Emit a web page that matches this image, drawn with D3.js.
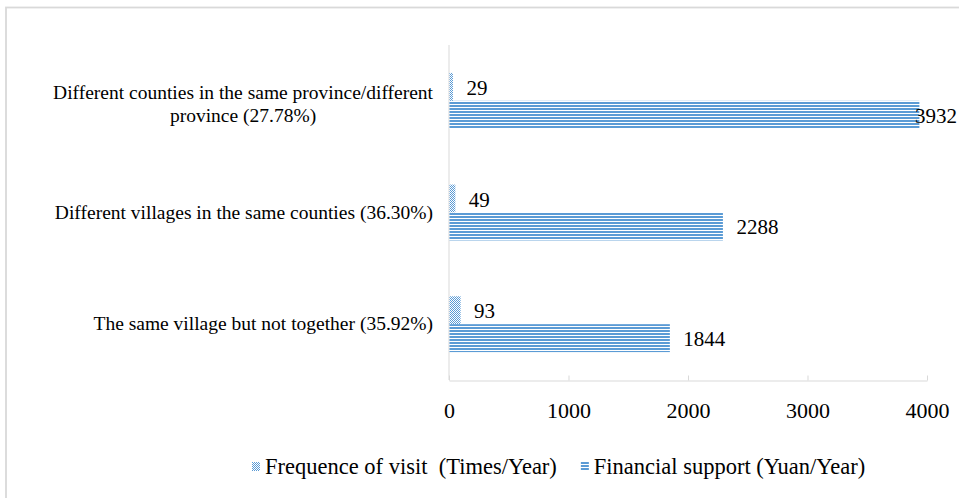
<!DOCTYPE html>
<html><head><meta charset="utf-8">
<script src="https://cdn.jsdelivr.net/npm/d3@7"></script>
<style>
html,body{margin:0;padding:0;background:#fff;}
svg{display:block;font-family:"Liberation Serif","Times New Roman",serif;}
</style></head>
<body>
<svg id="chart" width="959" height="498"></svg>
<script>
const categories = [
  ["Different counties in the same province/different", "province (27.78%)"],
  ["Different villages in the same counties (36.30%)"],
  ["The same village but not together (35.92%)"]
];
const seriesNames = ["Frequence of visit  (Times/Year)", "Financial support (Yuan/Year)"];
const frequency = [29, 49, 93];
const financial = [3932, 2288, 1844];
const xTicks = [0, 1000, 2000, 3000, 4000];

const W = 959, H = 498;
const margin = {left: 449, right: 32, top: 45, bottom: 118};
const svg = d3.select("#chart");
const blue = "#5B9BD5";

const defs = svg.append("defs");
const pDots = defs.append("pattern").attr("id","dots").attr("patternUnits","userSpaceOnUse")
  .attr("width",2).attr("height",2);
pDots.append("rect").attr("width",2).attr("height",2).attr("fill","#fff");
pDots.append("rect").attr("width",1).attr("height",1).attr("fill",blue);
pDots.append("rect").attr("x",1).attr("y",1).attr("width",1).attr("height",1).attr("fill",blue);
const pLines = defs.append("pattern").attr("id","hlines").attr("patternUnits","userSpaceOnUse")
  .attr("width",4).attr("height",3);
pLines.append("rect").attr("width",4).attr("height",3).attr("fill","#fff");
pLines.append("rect").attr("width",4).attr("height",2).attr("fill",blue);
const fills = ["url(#dots)", "url(#hlines)"];

// frame
svg.append("rect").attr("x",6).attr("y",7.5).attr("width",W).attr("height",H)
  .attr("fill","none").attr("stroke","#d9d9d9").attr("stroke-width",1.8);

const x = d3.scaleLinear().domain([0, 4000]).range([margin.left, W - margin.right]);
const y = d3.scaleBand().domain(d3.range(categories.length))
  .range([margin.top, H - margin.bottom]).paddingInner(0.5).paddingOuter(0.25);
const ySub = d3.scaleBand().domain([0,1]).range([0, y.bandwidth()]);

// x axis
const xAxis = d3.axisBottom(x).tickValues(xTicks).tickFormat(d3.format("d"))
  .tickSizeInner(-5).tickSizeOuter(0).tickPadding(22);
const gx = svg.append("g").attr("transform", `translate(0,${H - margin.bottom + 0.5})`).call(xAxis);
gx.select(".domain").attr("stroke","#d9d9d9");
gx.selectAll(".tick line").attr("stroke","#d9d9d9");
gx.selectAll(".tick text").attr("font-family","Liberation Serif").attr("font-size",22).attr("fill","#000");

// y axis line
svg.append("line").attr("x1",x(0)).attr("x2",x(0)).attr("y1",margin.top).attr("y2",H - margin.bottom)
  .attr("stroke","#d9d9d9");

// category labels
const catG = svg.append("g");
const catFont = 19.5;
categories.forEach((lines, i) => {
  const cy = y(i) + y.bandwidth()/2;
  const t = catG.append("text").attr("font-size",catFont).attr("fill","#000");
  if (lines.length === 1) {
    t.attr("x", 433).attr("y", cy + 6).attr("text-anchor","end").text(lines[0]);
  } else {
    t.attr("text-anchor","middle");
    const tmp = catG.append("text").attr("font-size",catFont).text(lines[0]);
    const w = tmp.node().getComputedTextLength(); tmp.remove();
    const cx = 433 - w/2;
    lines.forEach((ln, k) => {
      t.append("tspan").attr("x", cx).attr("y", cy + 10 + (k - (lines.length-1)/2) * 23).text(ln);
    });
  }
});

// bars
const series = [frequency, financial];
series.forEach((vals, s) => {
  const g = svg.append("g");
  g.selectAll("rect").data(vals).join("rect")
    .attr("x", x(0) + 0.5)
    .attr("y", (d,i) => y(i) + ySub(s))
    .attr("width", d => x(d) - x(0))
    .attr("height", ySub.bandwidth())
    .attr("fill", fills[s]);
  g.selectAll("text").data(vals).join("text")
    .attr("x", d => Math.min(x(d) + 14, W - 44))
    .attr("y", (d,i) => y(i) + ySub(s) + ySub.bandwidth()/2 + 8)
    .attr("font-size", 21).attr("fill","#000")
    .text(d => d);
});

// legend
const lg = svg.append("g").attr("transform","translate(252,474)");
let lx = 0;
seriesNames.forEach((name, s) => {
  lg.append("rect").attr("x", lx).attr("y", -12).attr("width", 8).attr("height", 9).attr("fill", fills[s]);
  const t = lg.append("text").attr("x", lx + 13).attr("y", 0).attr("font-size", 22.5)
    .attr("fill","#000").style("white-space","pre").text(name);
  lx += 13 + t.node().getComputedTextLength() + 24;
});
</script>
</body></html>
